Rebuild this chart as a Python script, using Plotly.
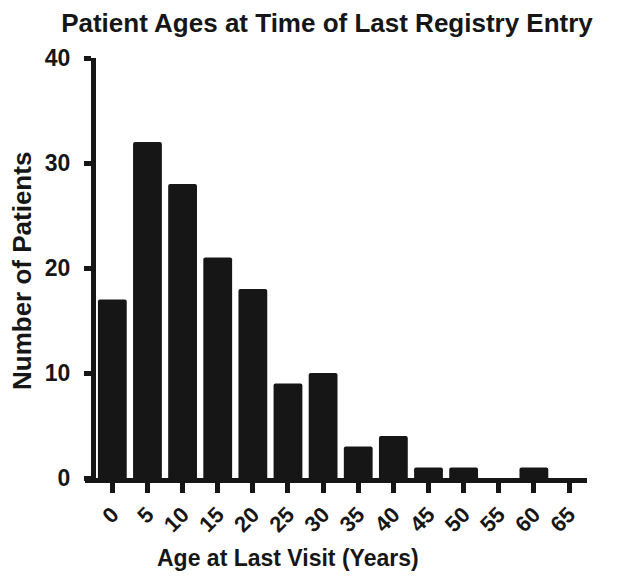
import plotly.graph_objects as go

ages = [0, 5, 10, 15, 20, 25, 30, 35, 40, 45, 50, 55, 60, 65]
patients = [17, 32, 28, 21, 18, 9, 10, 3, 4, 1, 1, 0, 1, 0]
y_ticks = [0, 10, 20, 30, 40]

FONT = "Liberation Sans, Arial, Helvetica, sans-serif"
INK = "#161616"

# the page body has an 8px margin, so the figure is 8px smaller than the window
W, H = 616, 574

fig = go.Figure()
fig.add_trace(go.Bar(
    x=ages, y=patients,
    width=4.1,
    marker=dict(color=INK, line=dict(width=0), cornerradius=2),
))

fig.update_layout(
    width=W, height=H,
    margin=dict(l=77, r=37, t=50, b=104, autoexpand=False),
    plot_bgcolor="white", paper_bgcolor="white",
    showlegend=False,
    font=dict(family=FONT, color=INK, weight="bold"),
    title=dict(
        text="Patient Ages at Time of Last Registry Entry",
        x=319 / W, xanchor="center", xref="container",
        y=1 - 15 / H, yanchor="middle", yref="container",
        font=dict(size=26, family=FONT, weight="bold", color=INK),
    ),
)

fig.update_xaxes(
    range=[-3.89, 67.56],
    tickvals=ages, ticktext=[str(a) for a in ages],
    tickangle=-45,
    ticks="outside", ticklen=10, tickwidth=5, tickcolor=INK,
    showline=True, linewidth=5, linecolor=INK,
    showgrid=False, zeroline=False, automargin=False,
    tickfont=dict(size=22, family=FONT, weight="bold"),
)

fig.update_yaxes(
    range=[0, 40],
    anchor="free", position=8 / 502,
    tickvals=y_ticks,
    ticks="outside", ticklen=7, tickwidth=5, tickcolor=INK,
    ticklabelstandoff=9,
    showline=True, linewidth=5, linecolor=INK,
    showgrid=False, zeroline=False, automargin=False,
    tickfont=dict(size=23, family=FONT, weight="bold"),
)

# axis titles
fig.add_annotation(
    text="Age at Last Visit (Years)", showarrow=False,
    xref="paper", yref="paper",
    x=(280 - 77) / 502, y=-(550 - 470) / 420,
    xanchor="center", yanchor="middle",
    font=dict(size=23, family=FONT, weight="bold", color=INK),
)
fig.add_annotation(
    text="Number of Patients", showarrow=False, textangle=-90,
    xref="paper", yref="paper",
    x=-(77 - 14) / 502, y=(470 - 263) / 420,
    xanchor="center", yanchor="middle",
    font=dict(size=26, family=FONT, weight="bold", color=INK),
)

fig.write_html("out.html")
